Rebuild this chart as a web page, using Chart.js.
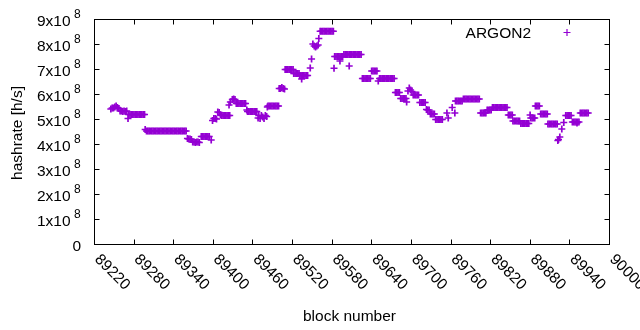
<!DOCTYPE html>
<html><head><meta charset="utf-8">
<script src="https://cdn.jsdelivr.net/npm/chart.js@4/dist/chart.umd.min.js"></script>
<style>html,body{margin:0;padding:0;background:#fff}#wrap{width:640px;height:330px}</style>
</head><body><div id="wrap"><canvas id="c" width="640" height="330"></canvas></div>
<script>
// ---- data ----
const seriesName = 'ARGON2';
const xTitle = 'block number';
const yTitle = 'hashrate [h/s]';
const xTickValues = [89220,89280,89340,89400,89460,89520,89580,89640,89700,89760,89820,89880,89940,90000];
const yTickValues = [0,1,2,3,4,5,6,7,8,9];   // units of 10^8 h/s
const yExponent = '8';

const blockNumbers = [
 89244,89246,89248,89250,89252,89254,89256,
 89258,89260,89262,89264,89266,89268,
 89270,
 89271,89273,89275,89277,89279,89281,89283,89285,89287,89289,89291,89293,89295,
 89296,
 89298,89300,89302,89304,89306,89308,89310,89312,89314,89316,
 89318,89320,89322,89324,89326,89328,89330,89332,89334,89336,
 89338,89340,89342,89344,89346,89348,89350,89352,89354,89356,
 89358,
 89360,89362,89364,89366,
 89368,89370,89372,89374,89376,89378,
 89381,89383,89385,89387,89389,89391,89393,
 89396,89398,
 89400,89402,89404,
 89406,89408,89410,89412,89414,89416,89418,89420,89422,89424,
 89423,89425,89428,89430,89432,
 89434,89436,89438,89440,89442,89444,89446,89448,
 89450,
 89451,89453,89455,89457,89459,89461,89463,89465,
 89467,89468,89470,89472,89474,89476,89478,89480,89481,
 89482,89484,89486,89488,89490,89492,89494,89496,89498,
 89499,89501,89503,89505,89507,
 89508,89510,89512,89514,89516,89518,89520,
 89521,89523,89525,89527,89529,
 89530,89532,89534,89536,89538,89540,89542,
 89533,89546,89548,
 89550,89552,89554,89556,89558,89559,
 89561,89563,89565,89567,89569,89571,89573,89575,89577,89579,89581,
 89582,
 89583,89585,89587,89589,89591,89593,89595,
 89591,
 89597,89599,89601,89603,89605,89607,89609,89611,89613,89615,89617,89619,89621,89623,
 89605,
 89625,89627,89629,89631,89633,89635,89637,
 89639,89641,89643,89645,89647,
 89649,
 89651,89653,89655,89657,89659,89661,89663,89665,89667,89669,89671,89673,
 89675,89677,89679,89681,
 89683,89685,89687,89689,89691,89692,
 89694,89696,89698,89700,
 89702,89704,89706,89708,89710,
 89712,89714,89716,89718,89720,
 89722,89724,89726,
 89728,89730,89732,89734,
 89736,89738,89740,89742,89744,89746,
 89753,89755,89761,89765,
 89766,89768,89770,89772,89774,89776,
 89778,89780,89782,89784,89786,89788,89790,89792,89794,89796,89798,89800,89802,
 89804,89806,89808,89810,89812,
 89814,89816,89818,89820,
 89822,89824,89826,89828,89830,89832,89834,89836,89838,89840,89842,89844,
 89846,89848,89850,89852,
 89853,89855,89857,89859,89861,89863,
 89865,89867,89869,89871,89873,89875,89877,
 89879,
 89880,89882,89884,89886,
 89887,89889,89891,89893,
 89895,89897,89899,89901,89903,89905,
 89906,89908,89910,89912,89914,89916,89918,89920,
 89921,89922,89924,89927,89930,
 89933,89935,89937,89939,89941,
 89943,89945,89947,89949,89951,89953,89950,
 89955,89957,89959,89961,89963,89965,89967
];

// hashrate in units of 10^8 h/s, one per block number above
const hashrateE8 = [
 5.44,5.48,5.48,5.52,5.56,5.50,5.46,
 5.36,5.36,5.34,5.36,5.34,5.36,
 5.06,
 5.22,5.22,5.22,5.22,5.22,5.22,5.22,5.22,5.22,5.22,5.22,5.22,5.22,
 4.62,
 4.56,4.56,4.56,4.56,4.56,4.56,4.56,4.56,4.56,4.56,
 4.56,4.56,4.56,4.56,4.56,4.56,4.56,4.56,4.56,4.56,
 4.56,4.56,4.56,4.56,4.56,4.56,4.56,4.56,4.56,4.56,
 4.56,
 4.26,4.24,4.24,4.22,
 4.12,4.12,4.10,4.12,4.12,4.10,
 4.34,4.34,4.34,4.34,4.34,4.34,4.34,
 4.20,4.98,
 5.06,5.06,5.04,
 5.32,5.30,5.20,5.18,5.18,5.18,5.18,5.18,5.18,5.18,
 5.60,5.72,5.82,5.84,5.82,
 5.66,5.66,5.66,5.66,5.66,5.66,5.66,5.66,
 5.40,
 5.34,5.34,5.34,5.34,5.34,5.34,5.34,5.34,
 5.08,5.18,5.06,5.18,5.12,5.06,5.18,5.14,5.52,
 5.56,5.56,5.56,5.56,5.56,5.56,5.56,5.56,5.56,
 6.26,6.26,6.30,6.26,6.24,
 7.02,7.02,7.02,7.02,7.02,7.02,7.02,
 6.86,6.86,6.86,6.86,6.86,
 6.78,6.78,6.78,6.78,6.78,6.78,6.78,
 6.64,7.08,7.44,
 8.04,7.96,7.92,7.96,8.00,8.26,
 8.55,8.55,8.55,8.55,8.55,8.55,8.55,8.55,8.55,8.55,8.55,
 7.07,
 7.54,7.54,7.54,7.54,7.54,7.54,7.54,
 7.36,
 7.62,7.62,7.62,7.62,7.62,7.62,7.62,7.62,7.62,7.62,7.62,7.62,7.62,7.62,
 7.16,
 6.66,6.66,6.66,6.66,6.66,6.66,6.66,
 6.96,6.96,6.96,6.96,6.96,
 6.56,
 6.66,6.66,6.66,6.66,6.66,6.66,6.66,6.66,6.66,6.66,6.66,6.66,
 6.10,6.10,6.10,6.10,
 5.86,5.86,5.86,5.86,5.86,5.72,
 6.16,6.28,6.20,6.14,
 6.00,6.00,6.00,6.00,6.00,
 5.70,5.70,5.70,5.70,5.70,
 5.42,5.40,5.40,
 5.24,5.24,5.24,5.24,
 5.02,5.02,5.02,5.02,5.02,5.02,
 5.28,5.08,5.50,5.28,
 5.76,5.76,5.76,5.76,5.76,5.76,
 5.84,5.84,5.84,5.84,5.84,5.84,5.84,5.84,5.84,5.84,5.84,5.84,5.84,
 5.28,5.28,5.28,5.28,5.28,
 5.40,5.40,5.40,5.40,
 5.50,5.50,5.50,5.50,5.50,5.50,5.50,5.50,5.50,5.50,5.50,5.50,
 5.20,5.20,5.20,5.20,
 4.96,4.96,4.96,4.96,4.96,4.96,
 4.86,4.86,4.86,4.86,4.86,4.86,4.86,
 5.20,
 5.08,5.08,5.08,5.08,
 5.56,5.56,5.56,5.56,
 5.24,5.24,5.24,5.24,5.24,5.24,
 4.84,4.84,4.84,4.84,4.84,4.84,4.84,4.84,
 4.18,4.22,4.32,4.64,4.90,
 5.18,5.18,5.18,5.18,5.18,
 4.92,4.92,4.92,4.92,4.92,4.92,4.88,
 5.28,5.28,5.28,5.28,5.28,5.28,5.28
];

// ---- styling ----
const PURPLE = '#9400d3';
const FONT = '"Liberation Sans", Arial, sans-serif';

const points = blockNumbers.map((b, i) => ({ x: b, y: hashrateE8[i] }));

const gnuplotAxes = {
  id: 'gnuplotAxes',
  afterDraw(chart) {
    const { ctx, scales: { x, y } } = chart;
    const L = Math.round(x.getPixelForValue(x.min)) - 0.5;
    const R = Math.round(x.getPixelForValue(x.max)) - 0.5;
    const B = Math.round(y.getPixelForValue(y.min)) - 0.5;
    const T = Math.round(y.getPixelForValue(y.max)) - 0.5;
    const tl = 5;
    ctx.save();
    ctx.strokeStyle = '#000';
    ctx.lineWidth = 1;
    ctx.beginPath();
    xTickValues.forEach(v => {
      const px = Math.round(x.getPixelForValue(v)) - 0.5;
      ctx.moveTo(px, B); ctx.lineTo(px, B - tl);
      ctx.moveTo(px, T); ctx.lineTo(px, T + tl);
    });
    yTickValues.forEach(v => {
      const py = Math.round(y.getPixelForValue(v)) - 0.5;
      ctx.moveTo(L, py); ctx.lineTo(L + tl, py);
      ctx.moveTo(R, py); ctx.lineTo(R - tl, py);
    });
    ctx.stroke();
    ctx.strokeRect(L, T, R - L, B - T);

    ctx.fillStyle = '#000';
    // x tick labels, rotated
    ctx.font = '15.5px ' + FONT;
    xTickValues.forEach(v => {
      const px = x.getPixelForValue(v);
      ctx.save();
      ctx.translate(px + 2, 257);
      ctx.rotate(Math.PI / 4);
      ctx.textAlign = 'left';
      ctx.textBaseline = 'middle';
      ctx.fillText(String(v), 0, 0);
      ctx.restore();
    });
    // y tick labels with superscript exponent
    yTickValues.forEach(v => {
      const py = y.getPixelForValue(v);
      ctx.textBaseline = 'alphabetic';
      if (v === 0) {
        ctx.font = '15.5px ' + FONT;
        ctx.textAlign = 'right';
        ctx.fillText('0', 81, py + 5.5);
      } else {
        ctx.font = '15.5px ' + FONT;
        ctx.textAlign = 'right';
        ctx.fillText(v + 'x10', 70.5, py + 5.5);
        ctx.font = '12px ' + FONT;
        ctx.textAlign = 'left';
        ctx.fillText(yExponent, 74, py - 2.3);
      }
    });
    // axis titles
    ctx.font = '15.5px ' + FONT;
    ctx.textAlign = 'center';
    ctx.textBaseline = 'alphabetic';
    ctx.fillText(xTitle, (x.left + x.right) / 2 - 3, 321);
    ctx.save();
    ctx.translate(22, 133);
    ctx.rotate(-Math.PI / 2);
    ctx.fillText(yTitle, 0, 0);
    ctx.restore();
    // key
    ctx.textAlign = 'right';
    ctx.fillText(seriesName, 531, 37.5);
    ctx.strokeStyle = PURPLE;
    ctx.lineWidth = 1.2;
    ctx.beginPath();
    ctx.moveTo(563.5, 32.5); ctx.lineTo(570.5, 32.5);
    ctx.moveTo(567, 29); ctx.lineTo(567, 36);
    ctx.stroke();
    ctx.restore();
  }
};

new Chart(document.getElementById('c'), {
  type: 'scatter',
  data: {
    datasets: [{
      label: seriesName,
      data: points,
      pointStyle: 'cross',
      pointRadius: 3.5,
      pointHoverRadius: 3.5,
      borderColor: PURPLE,
      backgroundColor: PURPLE,
      pointBorderWidth: 1.7,
      showLine: false
    }]
  },
  options: {
    responsive: false,
    animation: false,
    devicePixelRatio: 1,
    layout: { padding: { left: 95, right: 30, top: 20, bottom: 85 } },
    scales: {
      x: { type: 'linear', min: 89220, max: 90000, display: false },
      y: { type: 'linear', min: 0, max: 9, display: false }
    },
    plugins: { legend: { display: false }, tooltip: { enabled: false } },
    clip: false
  },
  plugins: [gnuplotAxes]
});
</script>
</body></html>
